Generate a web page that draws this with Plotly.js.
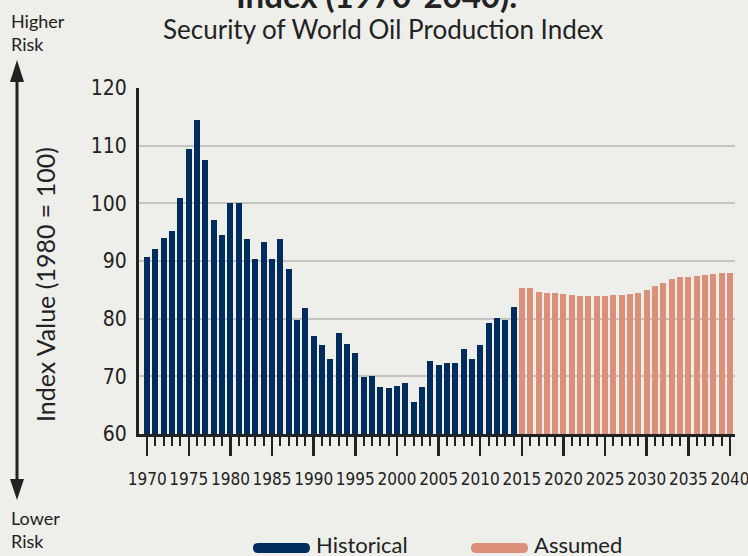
<!DOCTYPE html>
<html>
<head>
<meta charset="utf-8">
<script src="https://cdn.plot.ly/plotly-3.0.1.min.js"></script>
<style>
  html, body { margin: 0; padding: 0; background: #eeeeea; }
  #chart { width: 748px; height: 556px; }
</style>
</head>
<body>
<div id="chart"></div>
<script>
// ---- Data ----
const historicalYears = [1970,1971,1972,1973,1974,1975,1976,1977,1978,1979,
  1980,1981,1982,1983,1984,1985,1986,1987,1988,1989,
  1990,1991,1992,1993,1994,1995,1996,1997,1998,1999,
  2000,2001,2002,2003,2004,2005,2006,2007,2008,2009,
  2010,2011,2012,2013,2014];
const historicalValues = [90.7,92.1,94.0,95.2,100.9,109.5,114.5,107.6,97.1,94.5,
  100.0,100.1,93.9,90.4,93.3,90.4,93.9,88.7,79.7,81.8,
  77.0,75.4,73.0,77.6,75.6,74.0,69.9,70.1,68.2,68.0,
  68.3,68.9,65.6,68.2,72.6,72.0,72.3,72.3,74.7,73.0,
  75.4,79.2,80.2,79.7,82.1];
const assumedYears = [2015,2016,2017,2018,2019,2020,2021,2022,2023,2024,
  2025,2026,2027,2028,2029,2030,2031,2032,2033,2034,
  2035,2036,2037,2038,2039,2040];
const assumedValues = [85.3,85.3,84.6,84.4,84.4,84.3,84.1,83.9,83.9,83.9,
  83.9,84.1,84.1,84.3,84.4,84.9,85.6,86.1,86.8,87.2,
  87.2,87.4,87.5,87.7,87.9,88.0];
const yTickValues = [60,70,80,90,100,110,120];
const xTickValues = [1970,1975,1980,1985,1990,1995,2000,2005,2010,2015,2020,2025,2030,2035,2040];
const seriesNames = ['Historical', 'Assumed'];

// ---- Styles ----
const NAVY = '#002c5e';
const SALMON = '#dc8f79';
const BG = '#eeeeea';
const INK = '#222222';
const BODY_FONT = 'Lato, "Open Sans", sans-serif';
const NARROW_FONT = '"DejaVu Sans Condensed", "Liberation Sans Narrow", "Arial Narrow", Lato, sans-serif';

// plot area in pixels (for converting overlay positions to paper units)
const M = {l: 139, r: 13, t: 88, b: 122};
const W = 748, H = 556;
const PW = W - M.l - M.r, PH = H - M.t - M.b;
const px = X => (X - M.l) / PW;
const py = Y => (H - M.b - Y) / PH;

function pill(x0, x1, yc, h) {
  const r = h / 2;
  const a = px(x0), b = px(x1), ar = px(x0 + r), br = px(x1 - r);
  const t = py(yc - r), m = py(yc), btm = py(yc + r);
  return `M${ar},${t} L${br},${t} Q${b},${t} ${b},${m} Q${b},${btm} ${br},${btm} ` +
         `L${ar},${btm} Q${a},${btm} ${a},${m} Q${a},${t} ${ar},${t} Z`;
}
function tri(xc, apexY, baseY, halfW) {
  return `M${px(xc)},${py(apexY)} L${px(xc - halfW)},${py(baseY)} L${px(xc + halfW)},${py(baseY)} Z`;
}

const traces = [
  {type: 'bar', x: historicalYears, y: historicalValues, name: seriesNames[0],
   marker: {color: NAVY}, width: 0.72, showlegend: false, hoverinfo: 'x+y'},
  {type: 'bar', x: assumedYears, y: assumedValues, name: seriesNames[1],
   marker: {color: SALMON}, width: 0.72, showlegend: false, hoverinfo: 'x+y'}
];

const layout = {
  width: W, height: H,
  margin: M,
  paper_bgcolor: BG, plot_bgcolor: BG,
  showlegend: false,
  bargap: 0,
  xaxis: {
    range: [1969.02, 2040.6],
    tickmode: 'array', tickvals: xTickValues, ticktext: xTickValues.map(String),
    tickangle: 0, ticklabeloverflow: 'allow',
    ticks: 'outside', ticklen: 19, tickwidth: 2.5, tickcolor: INK,
    ticklabelstandoff: 9,
    minor: {tickmode: 'linear', tick0: 1970, dtick: 1, ticks: 'outside', ticklen: 9, tickwidth: 2, tickcolor: INK, showgrid: false},
    showline: true, linecolor: INK, linewidth: 3,
    showgrid: false, zeroline: false,
    tickfont: {family: NARROW_FONT, size: 17, color: INK},
    fixedrange: true
  },
  yaxis: {
    range: [60, 120],
    tickmode: 'array', tickvals: yTickValues, ticktext: yTickValues.map(String),
    ticks: '', ticklabelstandoff: 5,
    showline: true, linecolor: INK, linewidth: 3,
    showgrid: true, gridcolor: '#c4c4c4', gridwidth: 2,
    zeroline: false,
    tickfont: {family: NARROW_FONT, size: 21, color: INK},
    fixedrange: true
  },
  annotations: [
    {text: '<b>Index (1970-2040):</b>', xref: 'paper', yref: 'paper', x: px(377), y: py(-5),
     xanchor: 'center', yanchor: 'middle', showarrow: false,
     font: {family: BODY_FONT, size: 33, color: INK}},
    {text: 'Security of World Oil Production Index', xref: 'paper', yref: 'paper', x: px(383), y: py(29),
     xanchor: 'center', yanchor: 'middle', showarrow: false,
     font: {family: BODY_FONT, size: 26, color: INK}},
    {text: 'Index Value (1980 = 100)', xref: 'paper', yref: 'paper', x: px(45), y: py(285),
     xanchor: 'center', yanchor: 'middle', textangle: -90, showarrow: false,
     font: {family: BODY_FONT, size: 25, color: INK}},
    {text: 'Higher<br>Risk', xref: 'paper', yref: 'paper', x: px(9), y: py(32),
     xanchor: 'left', yanchor: 'middle', align: 'left', showarrow: false,
     font: {family: BODY_FONT, size: 18, color: INK}},
    {text: 'Lower<br>Risk', xref: 'paper', yref: 'paper', x: px(9), y: py(529),
     xanchor: 'left', yanchor: 'middle', align: 'left', showarrow: false,
     font: {family: BODY_FONT, size: 18, color: INK}},
    {text: seriesNames[0], xref: 'paper', yref: 'paper', x: px(314), y: py(544),
     xanchor: 'left', yanchor: 'middle', showarrow: false,
     font: {family: BODY_FONT, size: 22, color: INK}},
    {text: seriesNames[1], xref: 'paper', yref: 'paper', x: px(532), y: py(544),
     xanchor: 'left', yanchor: 'middle', showarrow: false,
     font: {family: BODY_FONT, size: 22, color: INK}}
  ],
  shapes: [
    // vertical risk arrow
    {type: 'line', xref: 'paper', yref: 'paper', x0: px(17), x1: px(17), y0: py(75), y1: py(486),
     line: {color: INK, width: 3}},
    {type: 'path', xref: 'paper', yref: 'paper', path: tri(17, 60, 82, 7), fillcolor: INK, line: {width: 0}},
    {type: 'path', xref: 'paper', yref: 'paper', path: tri(17, 500, 479, 7), fillcolor: INK, line: {width: 0}},
    // legend swatches
    {type: 'path', xref: 'paper', yref: 'paper', path: pill(253, 310, 548, 10), fillcolor: NAVY, line: {width: 0}},
    {type: 'path', xref: 'paper', yref: 'paper', path: pill(471, 528, 548, 10), fillcolor: SALMON, line: {width: 0}}
  ]
};

Plotly.newPlot('chart', traces, layout, {displayModeBar: false, staticPlot: true});
</script>
</body>
</html>
